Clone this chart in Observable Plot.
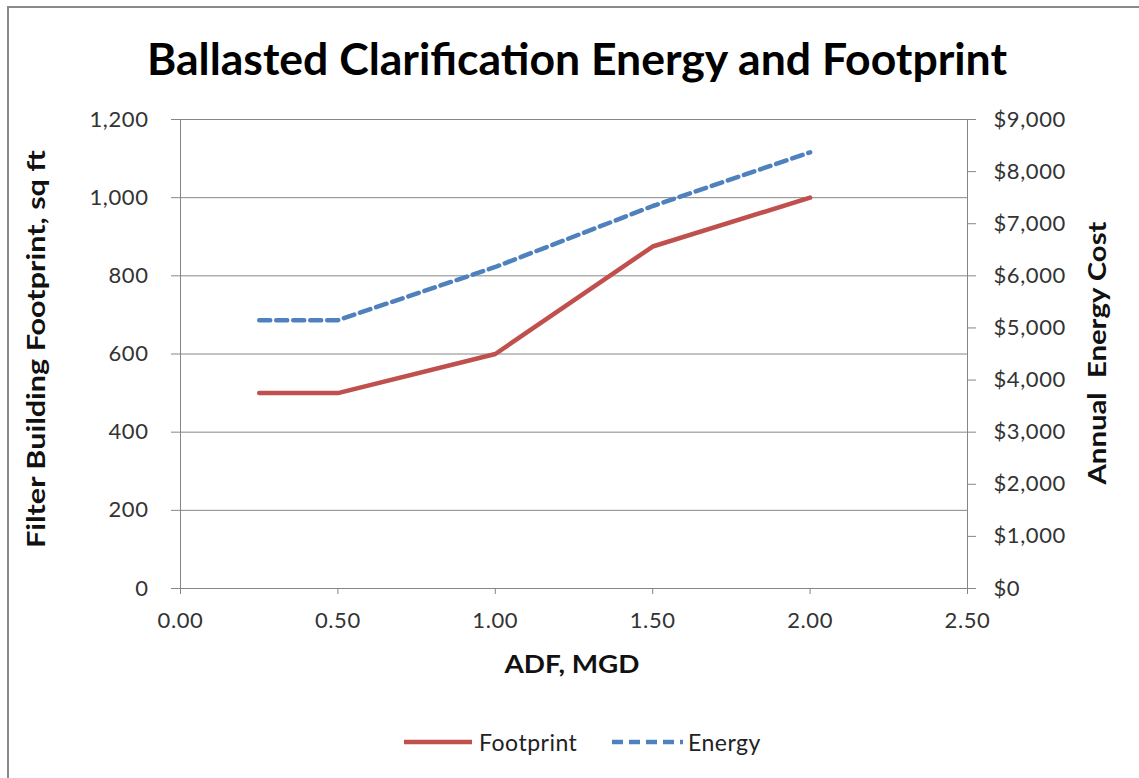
<!DOCTYPE html>
<html>
<head>
<meta charset="utf-8">
<script src="https://cdn.jsdelivr.net/npm/d3@7"></script>
<script src="https://cdn.jsdelivr.net/npm/@observablehq/plot@0.6"></script>
<style>
  html, body { margin: 0; padding: 0; width: 1139px; height: 778px; overflow: hidden; background: #fff; }
  body { position: relative; font-family: Lato, "Open Sans", sans-serif; color: #222; }
  #frame { position: absolute; left: 7px; top: 6px; width: 1200px; height: 820px; border: 2px solid #8a8a8a; box-sizing: border-box; }
  #overlay { position: absolute; left: 0; top: 0; pointer-events: none; }
  #chart { position: absolute; left: 0; top: 90px; }
  #chart svg text { letter-spacing: 0.6px; }
  #legend { position: absolute; left: 0; top: 726px; width: 1139px; height: 32px; }
  .lg { position: absolute; top: 0; height: 32px; display: flex; align-items: center; font-size: 23px; letter-spacing: 0.5px; color: #222; }
</style>
</head>
<body>
<div id="frame"></div>
<div id="chart"></div>
<svg id="overlay" width="1139" height="778" font-family="Lato, 'Open Sans', sans-serif" font-weight="bold" fill="#111">
  <text x="577" y="75" text-anchor="middle" font-size="44" fill="#000" textLength="860" lengthAdjust="spacingAndGlyphs">Ballasted Clarification Energy and Footprint</text>
  <text transform="translate(45,349) rotate(-90)" text-anchor="middle" font-size="25" textLength="398" lengthAdjust="spacingAndGlyphs">Filter Building Footprint, sq ft</text>
  <text transform="translate(1106,353) rotate(-90)" text-anchor="middle" font-size="25" textLength="263" lengthAdjust="spacingAndGlyphs" xml:space="preserve">Annual  Energy Cost</text>
  <text x="572" y="673" text-anchor="middle" font-size="24" textLength="135" lengthAdjust="spacingAndGlyphs">ADF, MGD</text>
</svg>
<div id="legend">
  <div class="lg" style="left:403px">
    <svg width="70" height="32"><line x1="1" x2="69" y1="16" y2="16" stroke="#C0504D" stroke-width="4.5"/></svg>
    <span style="margin-left:6px">Footprint</span>
  </div>
  <div class="lg" style="left:611px">
    <svg width="73" height="32"><line x1="1" x2="72" y1="16" y2="16" stroke="#4F81BD" stroke-width="4.5" stroke-dasharray="11,6"/></svg>
    <span style="margin-left:4px">Energy</span>
  </div>
</div>
<script>
// ---- data ----
const adf = [0.25, 0.5, 1.0, 1.5, 2.0];
const footprint = [500, 500, 600, 875, 1000];
const energy = [5150, 5150, 6170, 7340, 8370];
const xTicks = [0, 0.5, 1.0, 1.5, 2.0, 2.5];
const leftTicks = [0, 200, 400, 600, 800, 1000, 1200];
const rightTicks = [0, 1000, 2000, 3000, 4000, 5000, 6000, 7000, 8000, 9000];

const leftMax = 1200, rightMax = 9000;
const k = leftMax / rightMax; // map right axis onto left scale

const fpData = adf.map((x, i) => ({x, y: footprint[i]}));
const enData = adf.map((x, i) => ({x, y: energy[i] * k}));

const grid = "#868686";
const tickColor = "#333";

const chart = Plot.plot({
  width: 1139,
  height: 600,
  marginLeft: 180,
  marginRight: 172,
  marginTop: 29,
  marginBottom: 102,
  style: { fontFamily: "Lato, 'Open Sans', sans-serif", fontSize: "22px", color: tickColor, background: "transparent" },
  x: { domain: [0, 2.5] },
  y: { domain: [0, leftMax] },
  marks: [
    Plot.ruleY(leftTicks, { stroke: grid, strokeWidth: 1 }),
    Plot.ruleX([0, 2.5], { stroke: grid, strokeWidth: 1 }),
    Plot.axisX({ ticks: xTicks, tickFormat: d3.format(".2f"), tickSize: 6, tickPadding: 18, stroke: grid, label: null, fontSize: 22, fill: tickColor }),
    Plot.axisY({ anchor: "left", ticks: leftTicks, tickFormat: d3.format(","), tickSize: 9, tickPadding: 23, stroke: grid, label: null, fontSize: 22, fill: tickColor }),
    Plot.axisY(rightTicks.map(v => v * k), { anchor: "right", tickFormat: d => "$" + d3.format(",")(Math.round(d / k)), tickSize: 8, tickPadding: 18, stroke: grid, label: null, fontSize: 22, fill: tickColor }),
    Plot.line(fpData, { x: "x", y: "y", stroke: "#C0504D", strokeWidth: 4.5, strokeLinejoin: "round" }),
    Plot.line(enData, { x: "x", y: "y", stroke: "#4F81BD", strokeWidth: 4.5, strokeDasharray: "11,6" })
  ]
});
document.getElementById("chart").appendChild(chart);
</script>
</body>
</html>
